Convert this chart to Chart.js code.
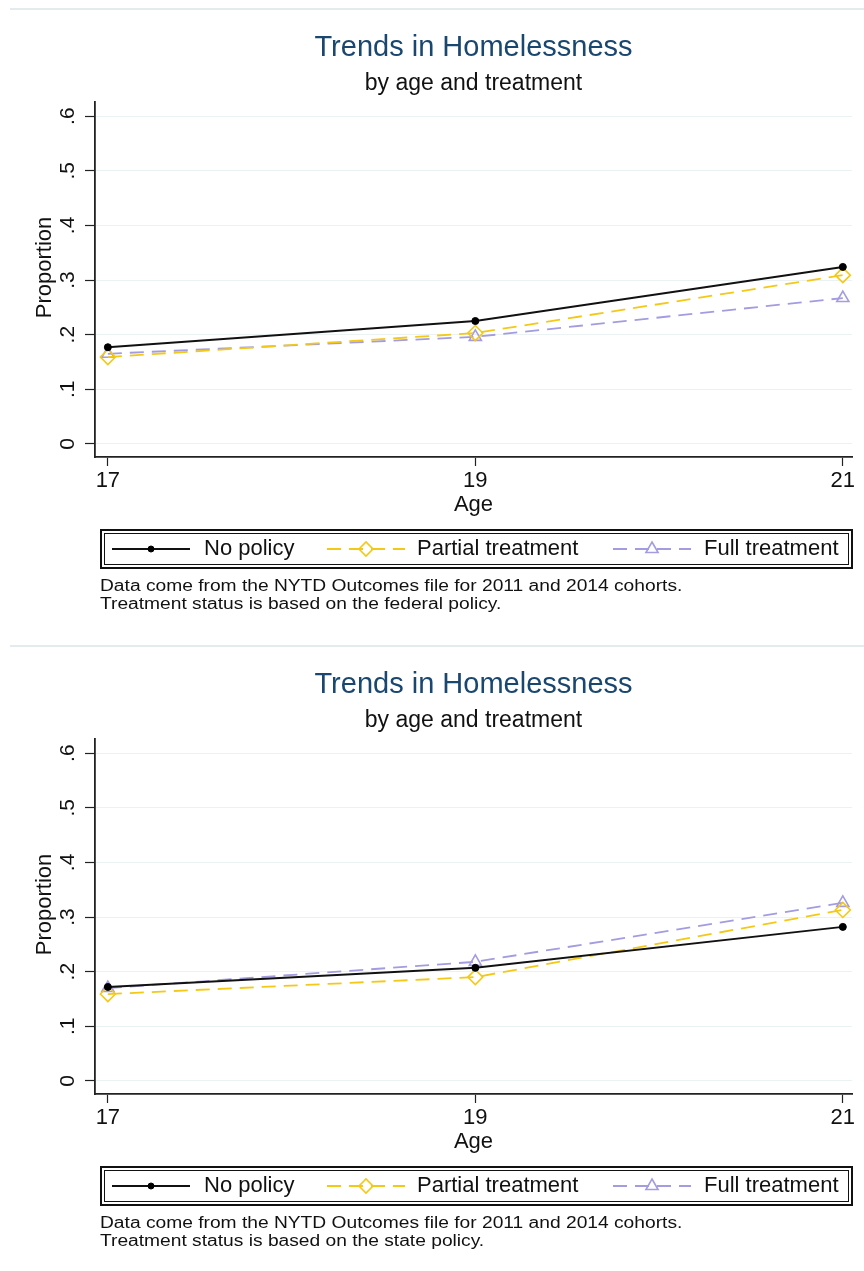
<!DOCTYPE html>
<html>
<head>
<meta charset="utf-8">
<script src="https://cdn.jsdelivr.net/npm/chart.js@4"></script>
<style>
body { margin: 0; background: #fff; overflow: hidden; }
.panel { position: relative; width: 864px; height: 637px; }
</style>
</head>
<body>
<div class="panel"><canvas id="federal"></canvas></div>
<div class="panel"><canvas id="state"></canvas></div>
<script>
// data
const ages = [17, 19, 21]
const seriesNames = ['No policy', 'Partial treatment', 'Full treatment']

const federalNoPolicy = [0.177, 0.225, 0.324]
const federalPartial = [0.159, 0.203, 0.309]
const federalFull = [0.165, 0.196, 0.267]

const stateNoPolicy = [0.172, 0.207, 0.282]
const statePartial = [0.159, 0.190, 0.313]
const stateFull = [0.170, 0.218, 0.326]

const yTicks = [0, 0.1, 0.2, 0.3, 0.4, 0.5, 0.6]
const yTickLabels = ['0', '.1', '.2', '.3', '.4', '.5', '.6']
const xTicks = [17, 19, 21]

const FONT = '"Liberation Sans", Arial, sans-serif'

// stata-ish frame: titles, rotated y labels, legend box, notes
const stataFrame = {
    id: 'stataFrame',
    afterDraw(chart, args, opts) {
        let ctx = chart.ctx
        let area = chart.chartArea
        let yScale = chart.scales.y
        let mid = (area.left + area.right) / 2

        ctx.save()
        ctx.strokeStyle = '#e3ebee'
        ctx.lineWidth = 2
        ctx.beginPath()
        ctx.moveTo(10, 9)
        ctx.lineTo(864, 9)
        ctx.stroke()

        ctx.textAlign = 'center'
        ctx.textBaseline = 'middle'
        ctx.fillStyle = '#1a476f'
        ctx.font = '29px ' + FONT
        ctx.fillText(opts.title, mid, 48)
        ctx.fillStyle = '#111'
        ctx.font = '23px ' + FONT
        ctx.fillText(opts.subtitle, mid, 84)

        // y tick labels, vertical like stata
        ctx.font = '21px ' + FONT
        yScale.ticks.forEach(function(t, i) {
            let py = yScale.getPixelForValue(t.value)
            ctx.save()
            ctx.translate(68, py)
            ctx.rotate(-Math.PI / 2)
            ctx.fillText(yTickLabels[i], 0, 0)
            ctx.restore()
        })

        ctx.font = '22px ' + FONT
        ctx.save()
        ctx.translate(45, (area.top + area.bottom) / 2 - 12)
        ctx.rotate(-Math.PI / 2)
        ctx.fillText('Proportion', 0, 0)
        ctx.restore()

        ctx.font = '22px ' + FONT
        ctx.fillText('Age', mid, 505)

        // legend box
        ctx.strokeStyle = '#111'
        ctx.lineWidth = 2
        ctx.strokeRect(101, 530, 751, 38)
        ctx.lineWidth = 1
        ctx.strokeRect(104.5, 533.5, 744, 31)

        let sampleX = [112, 327, 613]
        let textX = [204, 417, 704]
        let ly = 549
        chart.data.datasets.forEach(function(ds, i) {
            ctx.setLineDash(ds.borderDash || [])
            ctx.strokeStyle = ds.borderColor
            ctx.lineWidth = ds.borderWidth
            ctx.beginPath()
            ctx.moveTo(sampleX[i], ly)
            ctx.lineTo(sampleX[i] + 78, ly)
            ctx.stroke()
            ctx.setLineDash([])
            ctx.fillStyle = ds.pointBackgroundColor
            ctx.strokeStyle = ds.pointBorderColor
            ctx.lineWidth = ds.pointBorderWidth
            Chart.helpers.drawPoint(ctx, {
                pointStyle: ds.pointStyle,
                radius: ds.pointStyle == 'circle' ? 3 : 7,
                borderWidth: ds.pointBorderWidth,
                rotation: 0
            }, sampleX[i] + 39, ly)
            ctx.fillStyle = '#111'
            ctx.textAlign = 'left'
            ctx.font = '22px ' + FONT
            ctx.fillText(ds.label, textX[i], ly)
        })

        // notes, a bit wide like the stata export
        ctx.font = '16px ' + FONT
        ctx.fillStyle = '#111'
        opts.notes.forEach(function(line, i) {
            ctx.save()
            ctx.translate(100, 587 + i * 18)
            ctx.scale(1.2, 1)
            ctx.fillText(line, 0, 0)
            ctx.restore()
        })
        ctx.restore()
    }
}

function makeChart(id, noPolicy, partial, full, which) {
    let pts = function(vals) {
        return ages.map(function(a, i) { return { x: a, y: vals[i] } })
    }
    let ctx = document.getElementById(id).getContext('2d')
    return new Chart(ctx, {
        type: 'line',
        data: {
            datasets: [{
                label: seriesNames[0],
                data: pts(noPolicy),
                borderColor: '#111',
                borderWidth: 2,
                pointStyle: 'circle',
                pointRadius: 3.5,
                pointBackgroundColor: '#000',
                pointBorderColor: '#000',
                pointBorderWidth: 1
            }, {
                label: seriesNames[1],
                data: pts(partial),
                borderColor: '#f4c915',
                borderWidth: 1.8,
                borderDash: [14, 8],
                pointStyle: 'rectRot',
                pointRadius: 7.5,
                pointBackgroundColor: 'rgba(0,0,0,0)',
                pointBorderColor: '#f4c915',
                pointBorderWidth: 1.6
            }, {
                label: seriesNames[2],
                data: pts(full),
                borderColor: '#a39ce0',
                borderWidth: 1.8,
                borderDash: [14, 8],
                pointStyle: 'triangle',
                pointRadius: 7,
                pointBackgroundColor: 'rgba(0,0,0,0)',
                pointBorderColor: '#a39ce0',
                pointBorderWidth: 1.6
            }]
        },
        options: {
            responsive: true,
            maintainAspectRatio: false,
            animation: false,
            events: [],
            devicePixelRatio: 1,
            layout: { padding: { left: 0, right: 12, top: 102, bottom: 120 } },
            elements: { line: { tension: 0 } },
            scales: {
                x: {
                    type: 'linear',
                    min: 16.93,
                    max: 21.05,
                    afterBuildTicks: function(s) { s.ticks = xTicks.map(function(v) { return { value: v } }) },
                    afterFit: function(s) { s.height = 60 },
                    grid: { drawOnChartArea: false, tickLength: 9, tickColor: '#222', tickWidth: 1.2 },
                    border: { color: '#222', width: 1.8 },
                    ticks: {
                        color: '#111',
                        font: { family: FONT, size: 22 },
                        padding: 2,
                        maxRotation: 0,
                        autoSkip: false,
                        callback: function(v) { return String(v) }
                    }
                },
                y: {
                    min: -0.024,
                    max: 0.626,
                    afterBuildTicks: function(s) { s.ticks = yTicks.map(function(v) { return { value: v } }) },
                    afterFit: function(s) { s.width = 95 },
                    grid: { color: '#eaf2f3', lineWidth: 1, tickLength: 10, tickColor: '#222', tickWidth: 1.2 },
                    border: { color: '#222', width: 1.8 },
                    ticks: { display: false }
                }
            },
            plugins: {
                legend: { display: false },
                tooltip: { enabled: false },
                stataFrame: {
                    title: 'Trends in Homelessness',
                    subtitle: 'by age and treatment',
                    notes: [
                        'Data come from the NYTD Outcomes file for 2011 and 2014 cohorts.',
                        'Treatment status is based on the ' + which + ' policy.'
                    ]
                }
            }
        },
        plugins: [stataFrame]
    })
}

makeChart('federal', federalNoPolicy, federalPartial, federalFull, 'federal')
makeChart('state', stateNoPolicy, statePartial, stateFull, 'state')
</script>
</body>
</html>
